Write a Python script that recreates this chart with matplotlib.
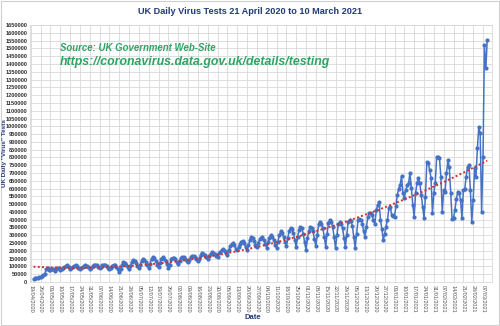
import numpy as np
import pandas as pd
import matplotlib
matplotlib.use("Agg")
import matplotlib.pyplot as plt
import matplotlib.dates as mdates

plt.rcParams['font.family'] = ['Liberation Sans', 'DejaVu Sans']

# daily tests in thousands, 21 April 2020 to 10 March 2021 (one row per week, Tue..Mon)
tests_k = [
    18, 23, 28, 28, 29, 30, 37,
    43, 52, 81, 88, 76, 77, 85,
    84, 70, 86, 92, 88, 80, 84,
    88, 95, 102, 109, 96, 84, 92,
    98, 104, 108, 102, 92, 84, 90,
    96, 105, 110, 104, 95, 85, 92,
    103, 110, 112, 106, 97, 88, 95,
    106, 112, 108, 102, 92, 84, 90,
    104, 110, 106, 98, 84, 66, 82,
    110, 128, 122, 112, 96, 84, 100,
    130, 141, 136, 120, 104, 92, 110,
    138, 147, 140, 128, 106, 90, 118,
    150, 160, 152, 138, 112, 94, 120,
    150, 158, 150, 136, 114, 90, 110,
    150, 156, 154, 145, 130, 118, 135,
    155, 160, 158, 150, 138, 128, 140,
    162, 170, 166, 158, 146, 135, 150,
    175, 185, 180, 172, 160, 150, 165,
    182, 193, 188, 180, 168, 160, 186,
    195, 205, 210, 200, 185, 175, 205,
    230, 244, 250, 238, 215, 205, 225,
    245, 258, 265, 250, 222, 205, 235,
    270, 291, 285, 265, 240, 222, 250,
    275, 285, 291, 270, 245, 220, 255,
    285, 300, 292, 270, 240, 218, 260,
    300, 325, 315, 290, 255, 230, 280,
    330, 347, 340, 315, 270, 225, 290,
    335, 355, 345, 310, 255, 205, 280,
    330, 350, 347, 325, 275, 230, 300,
    370, 387, 375, 345, 290, 227, 310,
    380, 398, 385, 350, 290, 218, 300,
    370, 385, 375, 345, 285, 225, 300,
    385, 398, 390, 360, 290, 218, 310,
    395, 404, 398, 375, 330, 291, 350,
    420, 440, 443, 430, 400, 370, 460,
    494, 515, 400, 340, 270, 310, 355,
    400, 475, 483, 430, 425, 419, 490,
    558, 600, 623, 680, 571, 539, 590,
    620, 635, 700, 603, 494, 419, 571,
    635, 668, 635, 560, 483, 411, 548,
    772, 763, 720, 668, 443, 571, 635,
    804, 800, 795, 676, 451, 590, 580,
    700, 783, 740, 571, 404, 411, 462,
    530, 580, 571, 526, 411, 590, 597,
    676, 740, 751, 590, 387, 526, 732,
    676, 860, 997, 955, 451, 804, 1521,
    1372, 1553,
]

first_day = "2020-04-21"
tick_start = "2020-04-19"
tick_end = "2021-03-07"

dates = pd.date_range(first_day, periods=len(tests_k), freq="D")
tests = np.array(tests_k) * 1000.0

# 2nd order polynomial trend line
day_no = np.arange(len(tests))
trend = np.polyval(np.polyfit(day_no, tests, 2), day_no)

fig = plt.figure(figsize=(5, 3.26), dpi=100)
fig.patch.set_facecolor("white")
ax = fig.add_axes([0.06, 0.135, 0.924, 0.788])

ax.plot(dates, tests, color="#4472C4", lw=1.1, marker="o", ms=2.0, zorder=3)
ax.plot(dates, trend, color="#D0302A", lw=1.4, ls=(0, (1, 1.2)), zorder=4)

ax.set_ylim(0, 1650000)
ax.set_yticks(np.arange(0, 1650001, 50000))
ax.set_yticklabels([f"{int(v)}" for v in np.arange(0, 1650001, 50000)],
                   fontsize=4.1, fontweight="bold", color="#333333")

ticks = pd.date_range(tick_start, tick_end, freq="7D")
ax.set_xticks(ticks)
ax.set_xticklabels([t.strftime("%d/%m/%Y") for t in ticks], rotation=270,
                   fontsize=4.0, color="#555555")
ax.set_xlim(mdates.date2num(pd.Timestamp(tick_start)) - 0.5,
            mdates.date2num(pd.Timestamp("2021-03-13")) + 0.4)

ax.tick_params(axis="both", length=0, pad=2)
ax.grid(True, color="#D9D9D9", lw=0.6)
ax.set_axisbelow(True)
for s in ax.spines.values():
    s.set_color("#D9D9D9")
    s.set_linewidth(0.6)

fig.text(0.5, 0.966, "UK Daily Virus Tests 21 April 2020 to 10 March 2021",
         ha="center", va="center", fontsize=6.6, fontweight="bold", color="#1F3A7A")
fig.text(0.12, 0.853, "Source: UK Government Web-Site", ha="left", va="center",
         fontsize=6.9, fontweight="bold", style="italic", color="#2EA464")
fig.text(0.12, 0.81, "https://coronavirus.data.gov.uk/details/testing", ha="left",
         va="center", fontsize=8.9, fontweight="bold", style="italic", color="#2EA464")
fig.text(0.009, 0.53, "UK Daily \"Virus\" Tests", rotation=90, ha="center",
         va="center", fontsize=4.6, fontweight="bold", color="#1F3A7A")
fig.text(0.506, 0.025, "Date", ha="center", va="center", fontsize=5.5,
         fontweight="bold", color="#1F3A7A")

# light frame round the whole chart
fig.add_artist(plt.Rectangle((0.002, 0.003), 0.996, 0.994, transform=fig.transFigure,
                             fill=False, ec="#D0D0D0", lw=0.8))

fig.savefig("out.png", dpi=100)
